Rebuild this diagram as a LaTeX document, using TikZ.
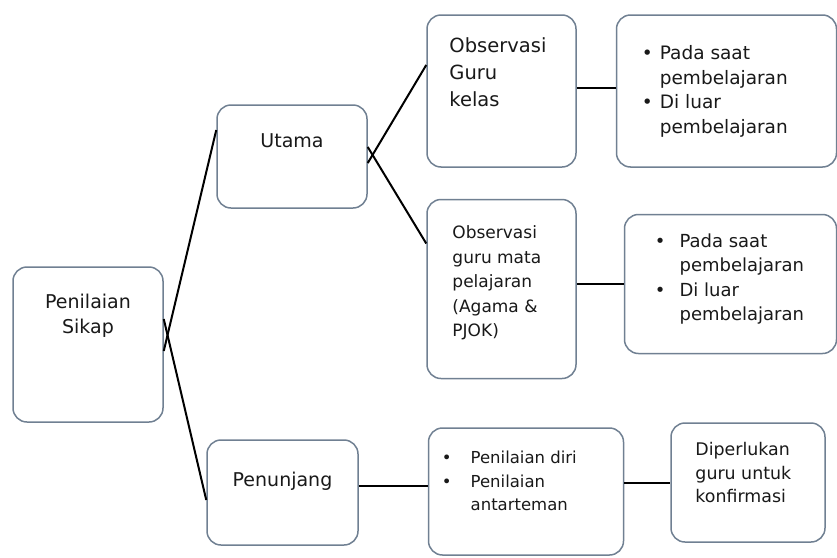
\documentclass[tikz,border=0pt]{standalone}
\usepackage{fontspec}
\setmainfont{DejaVu Sans}
\usetikzlibrary{positioning}
\definecolor{garis}{RGB}{112,128,146}
\tikzset{%
  % Specifications for style of nodes:
            kotak/.style = {rectangle, rounded corners=14pt, draw=garis,
                            line width=1.5pt, fill=white, inner sep=0pt},
            teks/.style = {inner sep=0pt, text=black!90, align=left},
            garisan/.style = {draw=black, line width=2pt}
}

\begin{document}
\begin{tikzpicture}[x=1pt, y=1pt]
\useasboundingbox (0,0) rectangle (837,-557);
                        % boxes
                        \node (sikap)[kotak, minimum width=150pt, minimum height=155pt] at (88,-344.5) {};
                        \node (utama)[kotak, minimum width=150pt, minimum height=103pt] at (292,-156.5) {};
                        \node (penunjang)[kotak, minimum width=151pt, minimum height=105pt] at (282.5,-492.5) {};
                        \node (kelas)[kotak, minimum width=149pt, minimum height=152pt] at (501.5,-91) {};
                        \node (ket1)[kotak, minimum width=220pt, minimum height=152pt, right=39pt of kelas] {};
                        \node (mapel)[kotak, minimum width=149pt, minimum height=179pt, below=31pt of kelas] {};
                        \node (ket2)[kotak, minimum width=212pt, minimum height=139pt, right=47pt of mapel, yshift=5pt] {};
                        \node (diri)[kotak, minimum width=195pt, minimum height=127pt, right=69pt of penunjang, yshift=1pt] {};
                        \node (konf)[kotak, minimum width=154pt, minimum height=119pt, right=46pt of diri, yshift=9pt] {};
                        % texts
                        \node (tSikap)[teks, anchor=north, align=center, font=\fontsize{19}{25}\selectfont] at ([yshift=-28pt]sikap.north) {Penilaian\\Sikap};
                        \node (tUtama)[teks, anchor=north, font=\fontsize{19}{25}\selectfont] at ([yshift=-29pt]utama.north) {Utama};
                        \node (tPenunjang)[teks, anchor=north, font=\fontsize{19}{25}\selectfont] at ([yshift=-33pt]penunjang.north) {Penunjang};
                        \node (tKelas)[teks, anchor=north west, font=\fontsize{19.5}{27}\selectfont] at ([xshift=23pt,yshift=-23pt]kelas.north west) {Observasi\\Guru\\kelas};
                        \node (tMapel)[teks, anchor=north west, font=\fontsize{17}{24.5}\selectfont] at ([xshift=26pt,yshift=-27pt]mapel.north west) {Observasi\\guru mata\\pelajaran\\(Agama \&\\PJOK)};
                        \node (tKet1)[teks, anchor=north west, font=\fontsize{18.5}{24.5}\selectfont] at ([xshift=26pt,yshift=-28pt]ket1.north west)
                        {\begin{tabular}{@{}l@{\hspace{7pt}}l@{}}
                        \textbullet & Pada saat\\ & pembelajaran\\ \textbullet & Di luar\\ & pembelajaran
                        \end{tabular}};
                        \node (tKet2)[teks, anchor=north west, font=\fontsize{18}{24.5}\selectfont] at ([xshift=31pt,yshift=-16pt]ket2.north west)
                        {\begin{tabular}{@{}l@{\hspace{14pt}}l@{}}
                        \textbullet & Pada saat\\ & pembelajaran\\ \textbullet & Di luar\\ & pembelajaran
                        \end{tabular}};
                        \node (tDiri)[teks, anchor=north west, font=\fontsize{16.5}{23.5}\selectfont] at ([xshift=14pt,yshift=-20pt]diri.north west)
                        {\begin{tabular}{@{}l@{\hspace{19pt}}l@{}}
                        \textbullet & Penilaian diri\\ \textbullet & Penilaian\\ & antarteman
                        \end{tabular}};
                        \node (tKonf)[teks, anchor=north west, font=\fontsize{17.4}{23.5}\selectfont] at ([xshift=25pt,yshift=-20pt]konf.north west) {Diperlukan\\guru untuk\\konfirmasi};
                        % connectors
                        \draw[garisan] ([yshift=-6.5pt]sikap.east) -- ([yshift=26.5pt]utama.west);
                        \draw[garisan] ([yshift=25.5pt]sikap.east) -- ([yshift=-7.5pt]penunjang.west);
                        \draw[garisan] ([yshift=-6.5pt]utama.east) -- ([yshift=26pt]kelas.west);
                        \draw[garisan] ([yshift=9.5pt]utama.east) -- ([yshift=45.5pt]mapel.west);
                        \draw[garisan] ([yshift=3pt]kelas.east) -- ([yshift=3pt]ket1.west);
                        \draw[garisan] (mapel.east |- ket2.west) -- (ket2.west);
                        \draw[garisan] ([yshift=7pt]penunjang.east) -- ([yshift=7pt]penunjang.east -| diri.west);
                        \draw[garisan] (diri.east |- konf.west) -- (konf.west);
                    \end{tikzpicture}
\end{document}
